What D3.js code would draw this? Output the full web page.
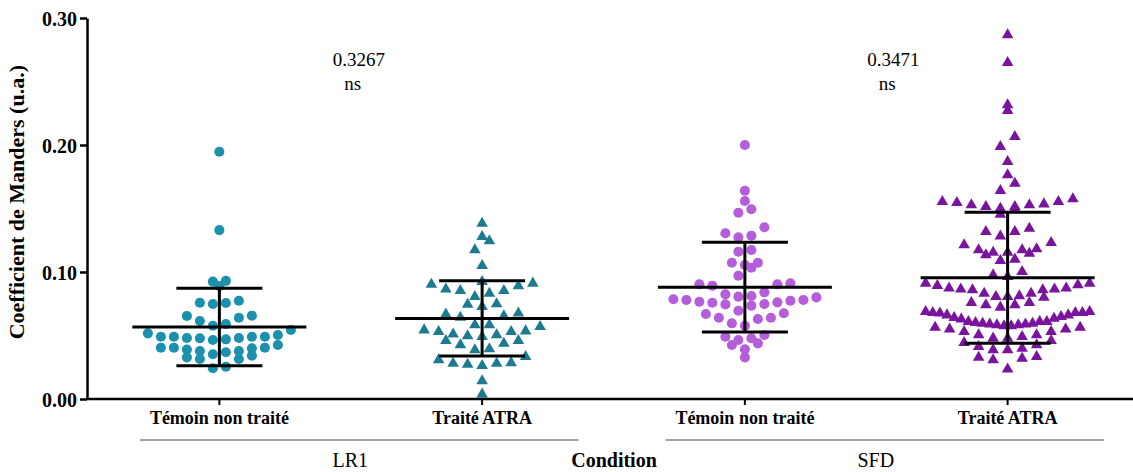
<!DOCTYPE html>
<html>
<head>
<meta charset="utf-8">
<script src="https://cdn.jsdelivr.net/npm/d3@7"></script>
<style>
  body { margin: 0; background: #fff; }
  svg { display: block; }
  svg text { font-family: "Liberation Serif", "DejaVu Serif", serif; fill: #000; }
  .bold { font-weight: bold; }
</style>
</head>
<body>
<svg id="chart" width="1133" height="472"></svg>
<script>
// categories
var groups = ["LR1", "SFD"];
var conditions = ["Témoin non traité", "Traité ATRA", "Témoin non traité", "Traité ATRA"];
var yTicks = [0, 0.1, 0.2, 0.3];

// values
var lr1Temoin = [0.1947, 0.133, 0.0924, 0.093, 0.089, 0.0758, 0.0748, 0.0756, 0.0774,
  0.0656, 0.064, 0.0614, 0.0654, 0.059, 0.0543, 0.0577,
  0.048, 0.048, 0.0465, 0.0504, 0.049, 0.049, 0.049, 0.049, 0.0517, 0.0425, 0.047, 0.0478,
  0.0404, 0.0404, 0.039, 0.0378, 0.0368, 0.0378, 0.0399, 0.0404,
  0.0352, 0.0328, 0.0315, 0.0315, 0.0341, 0.0242, 0.0254];
var lr1Atra = [0.1383, 0.1244, 0.1278, 0.1173, 0.105, 0.0911, 0.089, 0.0903, 0.0924,
  0.0853, 0.0832, 0.0806, 0.0853, 0.0864, 0.0748, 0.0727, 0.0745,
  0.0667, 0.0643, 0.0654, 0.0675,
  0.0583, 0.0543, 0.053, 0.051, 0.0504, 0.053, 0.0535, 0.0569, 0.0583,
  0.049, 0.0459, 0.0425, 0.0386, 0.0394, 0.0438, 0.0459, 0.0496,
  0.0307, 0.028, 0.0273, 0.0262, 0.028, 0.0285, 0.0333, 0.0142, 0.0037];
var sfdTemoin = [0.2, 0.164, 0.1559, 0.1467, 0.1494, 0.1352, 0.1305, 0.1273, 0.1286,
  0.116, 0.1173, 0.1073, 0.1034, 0.1055, 0.1073, 0.0971,
  0.0903, 0.0892, 0.0903, 0.0911,
  0.0806, 0.08, 0.078, 0.0824, 0.084, 0.0811, 0.0785, 0.078, 0.0774,
  0.0766, 0.0758, 0.0748, 0.0735, 0.0745, 0.0761, 0.0695,
  0.0675, 0.064, 0.063, 0.064, 0.0669, 0.0577, 0.0596,
  0.0504, 0.0478, 0.0465, 0.0438, 0.049, 0.0425, 0.0391, 0.0328];
var sfdAtra = [0.2866, 0.2648, 0.227, 0.2315, 0.2065, 0.1987, 0.1869, 0.1764, 0.1698, 0.164,
  0.1546, 0.1514, 0.1575, 0.1554, 0.1554, 0.1514, 0.1535,
  0.1494, 0.1528, 0.1501, 0.1528, 0.1454, 0.1317, 0.1283, 0.1317, 0.1344,
  0.1213, 0.1173, 0.1155, 0.1155, 0.11, 0.1134, 0.109, 0.1147, 0.1173, 0.1181, 0.1231,
  0.0976, 0.0911, 0.0898, 0.0892, 0.0911, 0.0963, 0.1002,
  0.0872, 0.0864, 0.0858, 0.0832, 0.0806, 0.0806, 0.0758, 0.074, 0.0758, 0.08, 0.0811, 0.0832, 0.0858, 0.0864, 0.0872,
  0.074, 0.068, 0.068, 0.0688, 0.0661, 0.0648, 0.064, 0.0661, 0.0675, 0.068, 0.0688, 0.0722,
  0.0635, 0.0609, 0.0609, 0.0596, 0.059, 0.0583, 0.0575, 0.0564, 0.0549, 0.053, 0.0504,
  0.053, 0.0549, 0.0564, 0.0575, 0.0583, 0.059, 0.0596, 0.0601, 0.0609, 0.0628,
  0.0504, 0.0478, 0.0443, 0.0412, 0.0333, 0.0386, 0.032, 0.0386, 0.0307, 0.0399, 0.0328,
  0.0425, 0.0459, 0.0478, 0.049, 0.0234];

// mean +/- SD as drawn
var means = [0.0567, 0.0633, 0.088, 0.0955];
var sdHigh = [0.0872, 0.0932, 0.1234, 0.147];
var sdLow = [0.0262, 0.0339, 0.0528, 0.0438];
var pValues = ["0.3267", "0.3471"];
var signif = ["ns", "ns"];

var series = [lr1Temoin, lr1Atra, sfdTemoin, sfdAtra];
var shapes = ["circle", "triangle", "circle", "triangle"];
var colors = ["#1b91ae", "#1e7b8f", "#b45edb", "#78149e"];

var BIN = 0.0115;      // row height of the scatter, in data units
var MAX_HALF = 82;     // widest a row may spread from the centre

var svg = d3.select("#chart");

var y = d3.scaleLinear().domain([0, 0.3]).range([399, 18]);
var x = d3.scaleBand().domain(d3.range(4)).range([88, 1139]);
var cx = function(i) { return x(i) + x.bandwidth() / 2; };

// y axis
var yAxis = svg.append("g")
  .attr("transform", "translate(87,0)")
  .call(d3.axisLeft(y).tickValues(yTicks).tickFormat(d3.format(".2f")).tickSize(7).tickSizeOuter(0));
yAxis.attr("font-family", null);
yAxis.select(".domain").attr("stroke", "#000").attr("stroke-width", 2.5);
yAxis.selectAll(".tick line").attr("stroke", "#000").attr("stroke-width", 2.5);
yAxis.selectAll(".tick text").classed("bold", true)
  .attr("font-size", 20).attr("x", -10).attr("dy", "0.35em");

// x axis
var xAxis = svg.append("g")
  .attr("transform", "translate(0,399)")
  .call(d3.axisBottom(x).tickFormat(function(d) { return conditions[d]; }).tickSize(6).tickSizeOuter(0));
xAxis.attr("font-family", null);
xAxis.select(".domain").attr("d", "M86,0H1133").attr("stroke", "#000").attr("stroke-width", 2.5);
xAxis.selectAll(".tick line").attr("stroke", "#000").attr("stroke-width", 2);
xAxis.selectAll(".tick text").classed("bold", true)
  .attr("font-size", 18).attr("y", 12).attr("dy", "0.71em");

// group brackets and p values
groups.forEach(function(g, k) {
  var x0 = x(2 * k) + 52, x1 = x(2 * k + 1) + x.bandwidth() - 35;
  svg.append("line").attr("x1", x0).attr("x2", x1).attr("y1", 440).attr("y2", 440)
    .attr("stroke", "#444").attr("stroke-width", 1);
  svg.append("text").attr("x", (x0 + x1) / 2 - 9).attr("y", 467)
    .attr("text-anchor", "middle").attr("font-size", 20)
    .text(g);
  var px = (cx(2 * k) + cx(2 * k + 1)) / 2 + 8 + k * 9;
  svg.append("text").attr("x", px).attr("y", 66).attr("text-anchor", "middle")
    .attr("font-size", 19).text(pValues[k]);
  svg.append("text").attr("x", px - 6).attr("y", 90).attr("text-anchor", "middle")
    .attr("font-size", 19).text(signif[k]);
});

svg.append("text").attr("class", "bold").attr("x", 614).attr("y", 467)
  .attr("text-anchor", "middle").attr("font-size", 20)
  .text("Condition");

svg.append("text").attr("class", "bold")
  .attr("transform", "translate(24," + y(0.155) + ") rotate(-90)")
  .attr("text-anchor", "middle").attr("font-size", 22)
  .text("Coefficient de Manders (u.a.)");

// row scatter: values share a row per bin, lowest in the middle, spreading out
var rows = function(values, center, step) {
  var bins = d3.group(values, function(v) { return Math.floor(v / BIN); });
  var out = [];
  bins.forEach(function(vals) {
    vals = vals.slice().sort(d3.ascending);
    var n = vals.length;
    var s = step;
    if ((n - 1) * s / 2 > MAX_HALF) s = 2 * MAX_HALF / (n - 1);
    var slots = [];
    if (n % 2) {
      slots.push(0);
      for (var k = 1; slots.length < n; ++k) { slots.push(-k * s, k * s); }
    } else {
      for (var k = 0; slots.length < n; ++k) { slots.push(-(k + 0.5) * s, (k + 0.5) * s); }
    }
    vals.forEach(function(v, j) { out.push({ x: center + slots[j], y: y(v), v: v }); });
  });
  return out;
};

series.forEach(function(vals, i) {
  var circ = shapes[i] === "circle";
  var pts = rows(vals, cx(i), circ ? 13 : 14.5);
  var sym = d3.symbol().type(circ ? d3.symbolCircle : d3.symbolTriangle).size(circ ? 80 : 58);
  svg.append("g").selectAll("path").data(pts).join("path")
    .attr("transform", function(d) { return "translate(" + d.x + "," + d.y + ")"; })
    .attr("d", sym)
    .attr("fill", colors[i]);

  // mean and SD bars
  var c = cx(i);
  var g = svg.append("g").attr("stroke", "#000").attr("stroke-width", 3);
  g.append("line").attr("x1", c - 87).attr("x2", c + 87).attr("y1", y(means[i])).attr("y2", y(means[i]));
  g.append("line").attr("x1", c).attr("x2", c).attr("y1", y(sdHigh[i])).attr("y2", y(sdLow[i]));
  g.append("line").attr("x1", c - 43).attr("x2", c + 43).attr("y1", y(sdHigh[i])).attr("y2", y(sdHigh[i]));
  g.append("line").attr("x1", c - 43).attr("x2", c + 43).attr("y1", y(sdLow[i])).attr("y2", y(sdLow[i]));
});
</script>
</body>
</html>
